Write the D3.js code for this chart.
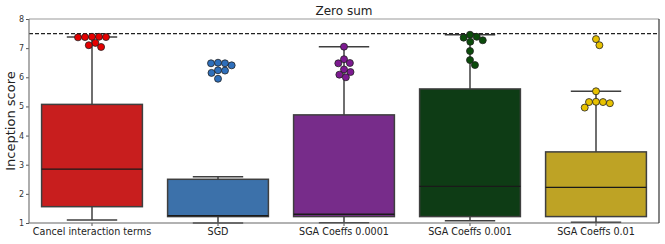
<!DOCTYPE html>
<html>
<head>
<meta charset="utf-8">
<script src="https://cdn.jsdelivr.net/npm/d3@7"></script>
<style>
  body { margin: 0; background: #fff; }
  text { font-family: "DejaVu Sans", sans-serif; }
</style>
</head>
<body>
<div id="chart"></div>
<script>
const categories = ["Cancel interaction terms", "SGD", "SGA Coeffs 0.0001", "SGA Coeffs 0.001", "SGA Coeffs 0.01"];
const boxColors = ["#c81e1e", "#3c71aa", "#772c8a", "#0e3c15", "#bea325"];
const pointColors = ["#e60000", "#2e6fbb", "#7d1a91", "#0b4b0b", "#e8c200"];

// [lowerWhisker, q1, median, q3, upperWhisker]
const boxStats = [
    [1.10, 1.56, 2.85, 5.07, 7.38],
    [1.00, 1.22, 1.25, 2.50, 2.59],
    [1.01, 1.22, 1.30, 4.71, 7.05],
    [1.08, 1.22, 2.26, 5.60, 7.46],
    [1.03, 1.22, 2.22, 3.44, 5.52]
];

const swarmValues = [
    [7.39, 7.38, 7.37, 7.39, 7.38, 7.18, 7.10, 7.04],
    [6.50, 6.48, 6.48, 6.41, 6.24, 6.23, 6.15, 5.95],
    [7.05, 6.62, 6.49, 6.48, 6.27, 6.18, 6.09, 6.00],
    [7.46, 7.39, 7.36, 7.27, 7.22, 6.90, 6.59, 6.42],
    [7.31, 7.10, 5.52, 5.16, 5.15, 5.15, 5.11, 4.96]
];

const yTicks = [1, 2, 3, 4, 5, 6, 7, 8];
const referenceValue = 7.5;

const W = 665, H = 244;
const margin = { top: 19, right: 6, bottom: 21, left: 29 };
const width = W - margin.left - margin.right;
const height = H - margin.top - margin.bottom;

const svg = d3.select("#chart").append("svg")
    .attr("width", W)
    .attr("height", H);

const g = svg.append("g")
    .attr("transform", `translate(${margin.left},${margin.top})`);

const x = d3.scaleBand()
    .domain(categories)
    .range([0, width])
    .paddingInner(0.2)
    .paddingOuter(0.1);

const y = d3.scaleLinear()
    .domain([1, 8])
    .range([height, 0]);

const edge = "#3f3f3f";

// Boxes
categories.forEach((c, i) => {
    const [lo, q1, med, q3, hi] = boxStats[i];
    const x0 = x(c), bw = x.bandwidth(), cx = x0 + bw / 2;
    const capW = bw / 2;

    g.append("line")
        .attr("x1", cx).attr("x2", cx)
        .attr("y1", y(q3)).attr("y2", y(hi))
        .attr("stroke", edge).attr("stroke-width", 1.5);
    g.append("line")
        .attr("x1", cx).attr("x2", cx)
        .attr("y1", y(q1)).attr("y2", y(lo))
        .attr("stroke", edge).attr("stroke-width", 1.5);
    [lo, hi].forEach(v => {
        g.append("line")
            .attr("x1", cx - capW / 2).attr("x2", cx + capW / 2)
            .attr("y1", y(v)).attr("y2", y(v))
            .attr("stroke", edge).attr("stroke-width", 1.5);
    });

    g.append("rect")
        .attr("x", x0)
        .attr("y", y(q3))
        .attr("width", bw)
        .attr("height", y(q1) - y(q3))
        .attr("fill", boxColors[i])
        .attr("stroke", edge)
        .attr("stroke-width", 1.5);

    g.append("line")
        .attr("x1", x0).attr("x2", x0 + bw)
        .attr("y1", y(med)).attr("y2", y(med))
        .attr("stroke", "#1a1a1a").attr("stroke-width", 1.3);
});

// Reference line
g.append("line")
    .attr("x1", 0).attr("x2", width)
    .attr("y1", y(referenceValue)).attr("y2", y(referenceValue))
    .attr("stroke", "#222")
    .attr("stroke-width", 1.2)
    .attr("stroke-dasharray", "4,2");

// Swarm points (simple beeswarm, like seaborn)
const r = 3.5;
function swarm(values) {
    const sorted = values.map(v => ({ v, py: y(v) })).sort((a, b) => a.py - b.py);
    const placed = [];
    sorted.forEach(p => {
        const d = 2 * r;
        const cands = [0];
        placed.forEach(q => {
            const dy = p.py - q.py;
            if (Math.abs(dy) < d) {
                const dx = Math.sqrt(d * d - dy * dy);
                cands.push(q.dx + dx, q.dx - dx);
            }
        });
        cands.sort((a, b) => Math.abs(a) - Math.abs(b));
        const ok = cands.find(cx => placed.every(q => {
            const dx = cx - q.dx, dy = p.py - q.py;
            return dx * dx + dy * dy >= d * d - 0.01;
        }));
        p.dx = ok;
        placed.push(p);
    });
    return placed;
}

categories.forEach((c, i) => {
    const cx = x(c) + x.bandwidth() / 2;
    g.selectAll(null)
        .data(swarm(swarmValues[i]))
        .enter()
        .append("circle")
        .attr("cx", d => cx + d.dx)
        .attr("cy", d => d.py)
        .attr("r", r)
        .attr("fill", pointColors[i])
        .attr("stroke", "#222")
        .attr("stroke-width", 0.8);
});

// Axes
const yAxis = g.append("g")
    .call(d3.axisLeft(y).tickValues(yTicks).tickSize(3).tickPadding(2).tickFormat(d3.format("d")));
yAxis.select(".domain").remove();
yAxis.selectAll("line").attr("stroke", "#555");
yAxis.selectAll("text").attr("fill", "#333").style("font-size", "8px");

const xAxis = g.append("g")
    .attr("transform", `translate(0,${height})`)
    .call(d3.axisBottom(x).tickSize(3).tickPadding(2));
xAxis.select(".domain").remove();
xAxis.selectAll("line").attr("stroke", "#555");
xAxis.selectAll("text").attr("fill", "#222").style("font-size", "9.6px");

// Frame
g.append("line").attr("x1", 0).attr("x2", width).attr("y1", 0).attr("y2", 0)
    .attr("stroke", "#999").attr("stroke-width", 1.2);
g.append("line").attr("x1", 0).attr("x2", width).attr("y1", height).attr("y2", height)
    .attr("stroke", "#666").attr("stroke-width", 1.2);
g.append("line").attr("x1", 0).attr("x2", 0).attr("y1", 0).attr("y2", height)
    .attr("stroke", "#777").attr("stroke-width", 1.2);
g.append("line").attr("x1", width).attr("x2", width).attr("y1", 0).attr("y2", height)
    .attr("stroke", "#333").attr("stroke-width", 1.2);

// Title
svg.append("text")
    .attr("x", margin.left + width / 2)
    .attr("y", 15)
    .attr("text-anchor", "middle")
    .style("font-size", "12px")
    .attr("fill", "#222")
    .text("Zero sum");

// Y label
svg.append("text")
    .attr("transform", `translate(15,${margin.top + height / 2}) rotate(-90)`)
    .attr("text-anchor", "middle")
    .style("font-size", "13px")
    .attr("fill", "#222")
    .text("Inception score");
</script>
</body>
</html>
